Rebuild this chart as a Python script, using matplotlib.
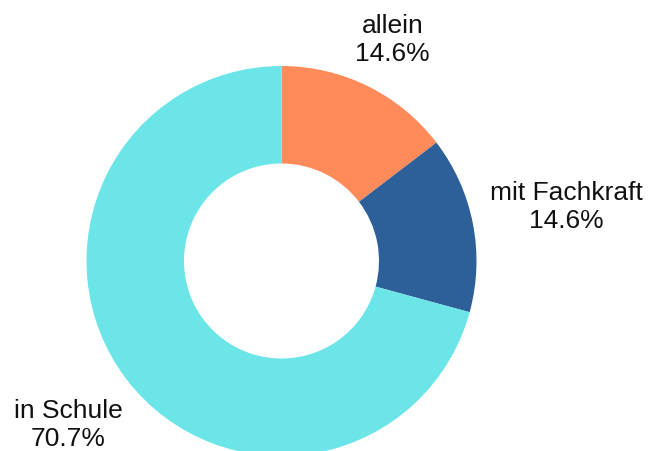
import matplotlib.pyplot as plt

plt.rcParams['font.family'] = ['Liberation Sans', 'DejaVu Sans']

labels = ["allein", "mit Fachkraft", "in Schule"]
shares = [14.6, 14.6, 70.7]
colors = ["#FF8A5A", "#2D5F99", "#6BE5E8"]

# label positions (data units, radius 1 = outer ring)
label_pos = [(0.569, 1.135), (1.462, 0.275), (-1.092, -0.841)]

fig = plt.figure(figsize=(6.48, 4.51), dpi=100)
ax = fig.add_axes([0, 0, 1, 1])

ax.pie(shares, colors=colors, startangle=90, counterclock=False,
       radius=1.0, wedgeprops=dict(width=0.5, edgecolor='none'))

for lab, val, (x, y) in zip(labels, shares, label_pos):
    ax.text(x, y, f"{lab}\n{val:.1f}%", ha='center', va='center',
            fontsize=19, color='#111111', linespacing=1.2)

ax.set_xlim(-281.5 / 195, (648 - 281.5) / 195)
ax.set_ylim(-190 / 195, 261 / 195)
ax.set_aspect('equal')
ax.axis('off')

fig.savefig("out.png", dpi=100)
